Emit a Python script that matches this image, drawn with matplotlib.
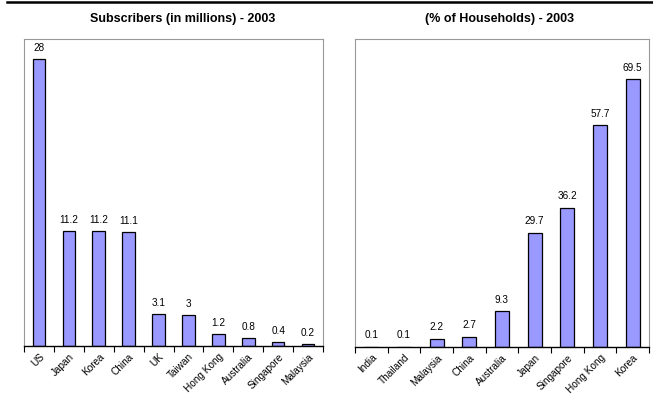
import matplotlib
matplotlib.use("Agg")
import matplotlib.pyplot as plt
import numpy as np

plt.rcParams["font.family"] = ["Liberation Sans", "DejaVu Sans"]

subs_countries = ["US", "Japan", "Korea", "China", "UK", "Taiwan",
                  "Hong Kong", "Australia", "Singapore", "Malaysia"]
subs_values = [28, 11.2, 11.2, 11.1, 3.1, 3, 1.2, 0.8, 0.4, 0.2]

hh_countries = ["India", "Thailand", "Malaysia", "China", "Australia",
                "Japan", "Singapore", "Hong Kong", "Korea"]
hh_values = [0.1, 0.1, 2.2, 2.7, 9.3, 29.7, 36.2, 57.7, 69.5]

BAR_FILL = "#9999ff"


def fmt(v):
    return f"{v:g}"


def draw_panel(ax, names, values, ymax):
    x = np.arange(len(names))
    ax.bar(x, values, width=0.42, color=BAR_FILL, edgecolor="black",
           linewidth=0.9)
    pad = ymax * 0.02
    for xi, v in zip(x, values):
        ax.text(xi, v + pad, fmt(v), ha="center", va="bottom", fontsize=7.2)
    ax.set_xlim(-0.5, len(names) - 0.5)
    ax.set_ylim(0, ymax)
    ax.set_yticks([])
    ax.set_xticks(x)
    ax.set_xticklabels(names, rotation=45, ha="right", rotation_mode="anchor",
                       fontsize=7.2)
    ax.tick_params(axis="x", which="major", length=0, pad=4)
    ax.set_xticks(np.arange(len(names) + 1) - 0.5, minor=True)
    ax.tick_params(axis="x", which="minor", length=4, width=0.8,
                   direction="out")
    for side in ("left", "top", "right"):
        ax.spines[side].set_color("#999999")
        ax.spines[side].set_linewidth(0.8)
    ax.spines["bottom"].set_color("black")
    ax.spines["bottom"].set_linewidth(1.0)


fig = plt.figure(figsize=(6.53, 4.04), dpi=100)

ax1 = fig.add_axes([0.0368, 0.1436, 0.4578, 0.7599])
draw_panel(ax1, subs_countries, subs_values, 30)

ax2 = fig.add_axes([0.5436, 0.1411, 0.4503, 0.7624])
draw_panel(ax2, hh_countries, hh_values, 80)

fig.text(182.5 / 653, 1 - 19 / 404, "Subscribers (in millions) - 2003",
         ha="center", va="center", fontsize=9, fontweight="bold")
fig.text(499.5 / 653, 1 - 19 / 404, "(% of Households) - 2003",
         ha="center", va="center", fontsize=9, fontweight="bold")

# heavy rule across the top
fig.add_artist(plt.Line2D([7 / 653, 1.0], [1 - 2 / 404, 1 - 2 / 404],
                          color="black", linewidth=1.8))

fig.savefig("out.png", dpi=100)
